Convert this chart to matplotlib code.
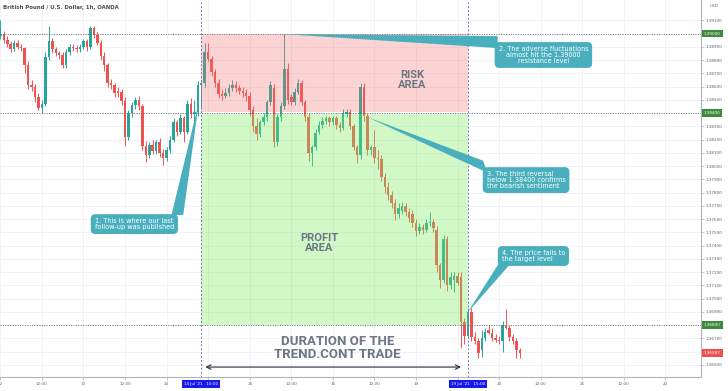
import matplotlib
matplotlib.use('Agg')
import matplotlib.pyplot as plt
from matplotlib.patches import Rectangle, Polygon
from matplotlib.transforms import blended_transform_factory
import numpy as np

# GBP/USD 1h candles, 12 Jul 00:00 -> 20 Jul 06:00 (bar index = hour)
opens = [1.38985, 1.39000, 1.38950, 1.38920, 1.38880, 1.38930, 1.38900, 1.38890, 1.38760, 1.38610,
         1.38600, 1.38520, 1.38440, 1.38470, 1.38820, 1.38940, 1.38880, 1.38850, 1.38840, 1.38760,
         1.38860, 1.38900, 1.38890, 1.38880, 1.38900, 1.38940, 1.38900, 1.39040, 1.38990, 1.38930,
         1.38830, 1.38760, 1.38630, 1.38610, 1.38570, 1.38560, 1.38490, 1.38220, 1.38400, 1.38460,
         1.38500, 1.38450, 1.38150, 1.38080, 1.38160, 1.38110, 1.38180, 1.38100, 1.38060, 1.38120,
         1.38200, 1.38330, 1.38260, 1.38360, 1.38260, 1.38470, 1.38390, 1.38410, 1.38610, 1.38630,
         1.38860, 1.38810, 1.38710, 1.38630, 1.38540, 1.38530, 1.38550, 1.38590, 1.38610, 1.38590,
         1.38570, 1.38550, 1.38530, 1.38420, 1.38300, 1.38240, 1.38330, 1.38370, 1.38480, 1.38590,
         1.38180, 1.38370, 1.38450, 1.38730, 1.38520, 1.38480, 1.38560, 1.38630, 1.38480, 1.38370,
         1.38100, 1.38140, 1.38260, 1.38310, 1.38340, 1.38360, 1.38330, 1.38360, 1.38310, 1.38290,
         1.38390, 1.38410, 1.38300, 1.38140, 1.38080, 1.38600, 1.38380, 1.38120, 1.38140, 1.38060,
         1.38050, 1.37920, 1.37840, 1.37780, 1.37720, 1.37640, 1.37660, 1.37700, 1.37650, 1.37640,
         1.37570, 1.37510, 1.37540, 1.37520, 1.37570, 1.37580, 1.37520, 1.37250, 1.37140, 1.37450,
         1.37100, 1.37140, 1.37170, 1.37160, 1.36820, 1.36720, 1.36900, 1.36710, 1.36680, 1.36610,
         1.36700, 1.36760, 1.36740, 1.36700, 1.36690, 1.36680, 1.36800, 1.36780, 1.36710, 1.36680,
         1.36610]
highs = [1.39100, 1.39020, 1.38980, 1.38940, 1.38950, 1.38950, 1.38920, 1.38900, 1.38790, 1.38650,
         1.38620, 1.38550, 1.38500, 1.38860, 1.39060, 1.38970, 1.38900, 1.38870, 1.38860, 1.38880,
         1.38920, 1.38920, 1.38910, 1.38920, 1.38960, 1.38960, 1.39060, 1.39060, 1.39010, 1.38950,
         1.38860, 1.38780, 1.38660, 1.38630, 1.38600, 1.38580, 1.38520, 1.38420, 1.38480, 1.38520,
         1.38530, 1.38470, 1.38190, 1.38180, 1.38200, 1.38200, 1.38210, 1.38130, 1.38140, 1.38230,
         1.38360, 1.38350, 1.38390, 1.38380, 1.38500, 1.38510, 1.38500, 1.38640, 1.38650, 1.38930,
         1.38930, 1.38830, 1.38730, 1.38660, 1.38580, 1.38590, 1.38620, 1.38650, 1.38640, 1.38610,
         1.38600, 1.38580, 1.38560, 1.38450, 1.38360, 1.38350, 1.38400, 1.38500, 1.38640, 1.38620,
         1.38390, 1.38480, 1.38996, 1.38780, 1.38540, 1.38590, 1.38660, 1.38650, 1.38500, 1.38400,
         1.38160, 1.38280, 1.38340, 1.38370, 1.38380, 1.38380, 1.38380, 1.38380, 1.38330, 1.38430,
         1.38430, 1.38430, 1.38320, 1.38160, 1.38630, 1.38630, 1.38400, 1.38160, 1.38270, 1.38120,
         1.38080, 1.37950, 1.37880, 1.37810, 1.37750, 1.37720, 1.37730, 1.37720, 1.37680, 1.37670,
         1.37600, 1.37570, 1.37560, 1.37600, 1.37650, 1.37600, 1.37550, 1.37270, 1.37480, 1.37470,
         1.37200, 1.37200, 1.37200, 1.37200, 1.36850, 1.36930, 1.36930, 1.36750, 1.36700, 1.36760,
         1.36780, 1.36800, 1.36780, 1.36730, 1.36720, 1.36830, 1.36920, 1.36800, 1.36730, 1.36700,
         1.36630]
lows = [1.38960, 1.38930, 1.38900, 1.38860, 1.38870, 1.38880, 1.38870, 1.38700, 1.38580, 1.38570,
        1.38480, 1.38420, 1.38400, 1.38450, 1.38800, 1.38850, 1.38830, 1.38810, 1.38740, 1.38740,
        1.38840, 1.38870, 1.38860, 1.38860, 1.38880, 1.38870, 1.38880, 1.38970, 1.38910, 1.38800,
        1.38720, 1.38600, 1.38580, 1.38520, 1.38520, 1.38460, 1.38150, 1.38200, 1.38370, 1.38430,
        1.38420, 1.38120, 1.38030, 1.38060, 1.38090, 1.38090, 1.38070, 1.38010, 1.38040, 1.38100,
        1.38180, 1.38230, 1.38240, 1.38180, 1.38240, 1.38360, 1.38320, 1.38380, 1.38430, 1.38600,
        1.38790, 1.38680, 1.38600, 1.38510, 1.38500, 1.38510, 1.38530, 1.38570, 1.38560, 1.38540,
        1.38520, 1.38490, 1.38380, 1.38260, 1.38200, 1.38220, 1.38310, 1.38340, 1.38460, 1.38140,
        1.38150, 1.38340, 1.38430, 1.38470, 1.38460, 1.38460, 1.38540, 1.38460, 1.38340, 1.38040,
        1.38000, 1.38120, 1.38240, 1.38290, 1.38320, 1.38300, 1.38310, 1.38280, 1.38260, 1.38270,
        1.38370, 1.38280, 1.38120, 1.38020, 1.38050, 1.38340, 1.38080, 1.38080, 1.38020, 1.37980,
        1.37890, 1.37800, 1.37740, 1.37680, 1.37590, 1.37610, 1.37640, 1.37620, 1.37580, 1.37540,
        1.37470, 1.37490, 1.37490, 1.37500, 1.37550, 1.37500, 1.37200, 1.37080, 1.37120, 1.37060,
        1.37070, 1.37050, 1.37100, 1.36630, 1.36660, 1.36700, 1.36680, 1.36660, 1.36550, 1.36560,
        1.36680, 1.36730, 1.36680, 1.36670, 1.36660, 1.36600, 1.36770, 1.36680, 1.36660, 1.36550,
        1.36550]
closes = [1.39000, 1.38950, 1.38920, 1.38880, 1.38930, 1.38900, 1.38890, 1.38760, 1.38610, 1.38600,
          1.38520, 1.38440, 1.38470, 1.38820, 1.38940, 1.38880, 1.38850, 1.38840, 1.38760, 1.38860,
          1.38900, 1.38890, 1.38880, 1.38900, 1.38940, 1.38900, 1.39040, 1.38990, 1.38930, 1.38830,
          1.38760, 1.38630, 1.38610, 1.38550, 1.38550, 1.38490, 1.38220, 1.38400, 1.38460, 1.38500,
          1.38450, 1.38150, 1.38080, 1.38160, 1.38110, 1.38180, 1.38100, 1.38060, 1.38120, 1.38200,
          1.38330, 1.38260, 1.38360, 1.38260, 1.38470, 1.38390, 1.38410, 1.38610, 1.38630, 1.38860,
          1.38810, 1.38710, 1.38630, 1.38540, 1.38530, 1.38550, 1.38590, 1.38610, 1.38590, 1.38570,
          1.38550, 1.38530, 1.38420, 1.38300, 1.38240, 1.38330, 1.38370, 1.38480, 1.38610, 1.38180,
          1.38370, 1.38450, 1.38730, 1.38500, 1.38480, 1.38560, 1.38630, 1.38480, 1.38370, 1.38100,
          1.38140, 1.38250, 1.38310, 1.38340, 1.38360, 1.38330, 1.38360, 1.38310, 1.38290, 1.38400,
          1.38410, 1.38300, 1.38140, 1.38080, 1.38600, 1.38380, 1.38120, 1.38140, 1.38060, 1.38050,
          1.37920, 1.37840, 1.37780, 1.37720, 1.37640, 1.37680, 1.37700, 1.37650, 1.37610, 1.37570,
          1.37510, 1.37540, 1.37520, 1.37570, 1.37580, 1.37530, 1.37250, 1.37140, 1.37450, 1.37100,
          1.37160, 1.37170, 1.37120, 1.36820, 1.36720, 1.36900, 1.36710, 1.36680, 1.36590, 1.36700,
          1.36750, 1.36740, 1.36700, 1.36690, 1.36680, 1.36800, 1.36780, 1.36710, 1.36680, 1.36610,
          1.36587]

x_ticks = [0, 12, 24, 36, 48, 60, 72, 84, 96, 108, 120, 132, 144, 156, 168, 180, 192]
x_labels = ['12', '12:00', '13', '12:00', '14', '', '15', '12:00', '16', '12:00', '19', '',
            '20', '12:00', '21', '12:00', '22']
y_ticks = [1.365 + 0.001 * k for k in range(27)]

entry_bar = 58      # 14 Jul '21 10:00
exit_bar = 135      # 19 Jul '21 15:00
resistance = 1.39000
entry_level = 1.38400
target = 1.36800
last_price = 1.36587

bars = np.arange(len(closes))
o = np.array(opens)
c = np.array(closes)
up = c >= o
col = np.where(up, '#26a69a', '#ef5350')

fig = plt.figure(figsize=(7.28, 3.91), dpi=100)
ax = fig.add_axes([0, 14 / 391, 701 / 728, 377 / 391])

ax.vlines(bars, lows, highs, colors=col, lw=0.7, zorder=2)
ax.bar(bars, np.maximum(np.abs(c - o), 0.00003), bottom=np.minimum(o, c), width=0.72,
       color=col, lw=0, zorder=3)

# risk / profit boxes laid over the candles
ax.add_patch(Rectangle((entry_bar, entry_level + 0.00008), exit_bar - entry_bar,
                       resistance - entry_level - 0.00008, fc='#f57070', alpha=0.3, ec='none', zorder=4))
ax.add_patch(Rectangle((entry_bar, target), exit_bar - entry_bar,
                       entry_level - 0.00008 - target, fc='#7eeb62', alpha=0.35, ec='none', zorder=4))

for lvl in [resistance, entry_level, target]:
    ax.axhline(lvl, color='#6b6e78', ls=(0, (1, 1.5)), lw=0.7, zorder=5)
for b in [entry_bar, exit_bar]:
    ax.axvline(b, color='#6f74c8', ls=(0, (2, 2)), lw=0.7, zorder=5)

ax.set_xlim(-0.1, 202.3)
ax.set_ylim(1.36408, 1.39253)
ax.set_xticks(x_ticks)
ax.set_xticklabels(x_labels)
ax.yaxis.tick_right()
ax.set_yticks(y_ticks)
hidden = [resistance, entry_level, target, 1.366]
ax.set_yticklabels(['' if min(abs(v - h) for h in hidden) < 1e-6 else f'{v:.5f}' for v in y_ticks])
ax.grid(color='#eef0f6', lw=0.6)
ax.set_axisbelow(True)
for s in ['top', 'left']:
    ax.spines[s].set_visible(False)
for s in ['right', 'bottom']:
    ax.spines[s].set_color('#b0b3bb')
    ax.spines[s].set_linewidth(0.8)
ax.tick_params(axis='both', length=2, width=0.5, colors='#b0b3bb', labelcolor='#5d606b',
               labelsize=3.0, pad=1.5)

# coloured price labels on the scale
ty = blended_transform_factory(ax.transAxes, ax.transData)
for lvl, fc in [(resistance, '#3c8a3a'), (entry_level, '#3c8a3a'), (target, '#3c8a3a'), (last_price, '#ef5350')]:
    ax.text(1.004, lvl, f'{lvl:.5f}', transform=ty, ha='left', va='center', fontsize=3.0,
            color='white', bbox=dict(boxstyle='square,pad=0.45', fc=fc, ec='none'),
            clip_on=False, zorder=10)

# date labels under the vertical lines
tx = blended_transform_factory(ax.transData, ax.transAxes)
for b, lab in [(entry_bar, "14 Jul '21   10:00"), (exit_bar, "19 Jul '21   15:00")]:
    ax.text(b, -0.019, lab, transform=tx, ha='center', va='center', fontsize=3.0, color='white',
            bbox=dict(boxstyle='square,pad=0.5', fc='#1818f0', ec='none'), clip_on=False, zorder=10)

fig.text(0.004, 1 - 7 / 391, 'British Pound / U.S. Dollar, 1h, OANDA', fontsize=3.9,
         color='#4a4d57', fontweight='bold', va='center')
fig.text(714 / 728, 1 - 6 / 391, 'USD', fontsize=3.0, color='#5d606b', ha='center', va='center')

big = dict(family='Roboto', fontweight='bold', color='#6b7784', ha='center', va='center',
           linespacing=1.05, zorder=7)
ax.text(119, 1.38649, 'RISK\nAREA', fontsize=8, **big)
ax.text(92, 1.37419, 'PROFIT\nAREA', fontsize=8, **big)
ax.text(97.4, 1.36626, 'DURATION OF THE\nTREND.CONT TRADE', fontsize=9.5, **big)

p_arrow = 1.36483
ax.annotate('', xy=(133.8, p_arrow), xytext=(58.4, p_arrow),
            arrowprops=dict(arrowstyle='<->', lw=0.8, color='#2a2e39', mutation_scale=8), zorder=7)

# callouts: text, box centre, alignment, tail (tip + two base points)
teal = '#4aafbd'
callouts = [
    ('1. This is where our last\nfollow-up was published', (38.7, 1.37562), 'left',
     [(57.4, 1.38491), (49.4, 1.37630), (52.8, 1.37630)]),
    ('2. The adverse fluctuations\nalmost hit the 1.39000\nresistance level', (156.8, 1.38838), 'center',
     [(81.7, 1.38996), (143.6, 1.38980), (143.6, 1.38890)]),
    ('3. The third reversal\nbelow 1.38400 confirms\nthe bearish sentiment', (151.8, 1.37894), 'left',
     [(105.9, 1.38370), (139.4, 1.38040), (140.6, 1.37950)]),
    ('4. The price falls to\nthe target level', (153.9, 1.37321), 'left',
     [(134.8, 1.36891), (143.8, 1.37260), (147.2, 1.37260)]),
]
for txt, (bx, by), al, tail in callouts:
    ax.add_patch(Polygon(tail, closed=True, fc=teal, ec='none', zorder=8))
    ax.text(bx, by, txt, ha='center', va='center', multialignment=al, fontsize=4.7, color='white',
            linespacing=1.0, zorder=9,
            bbox=dict(boxstyle='round,pad=0.6,rounding_size=0.7', fc=teal, ec='none'))

fig.savefig('out.png', dpi=100)
